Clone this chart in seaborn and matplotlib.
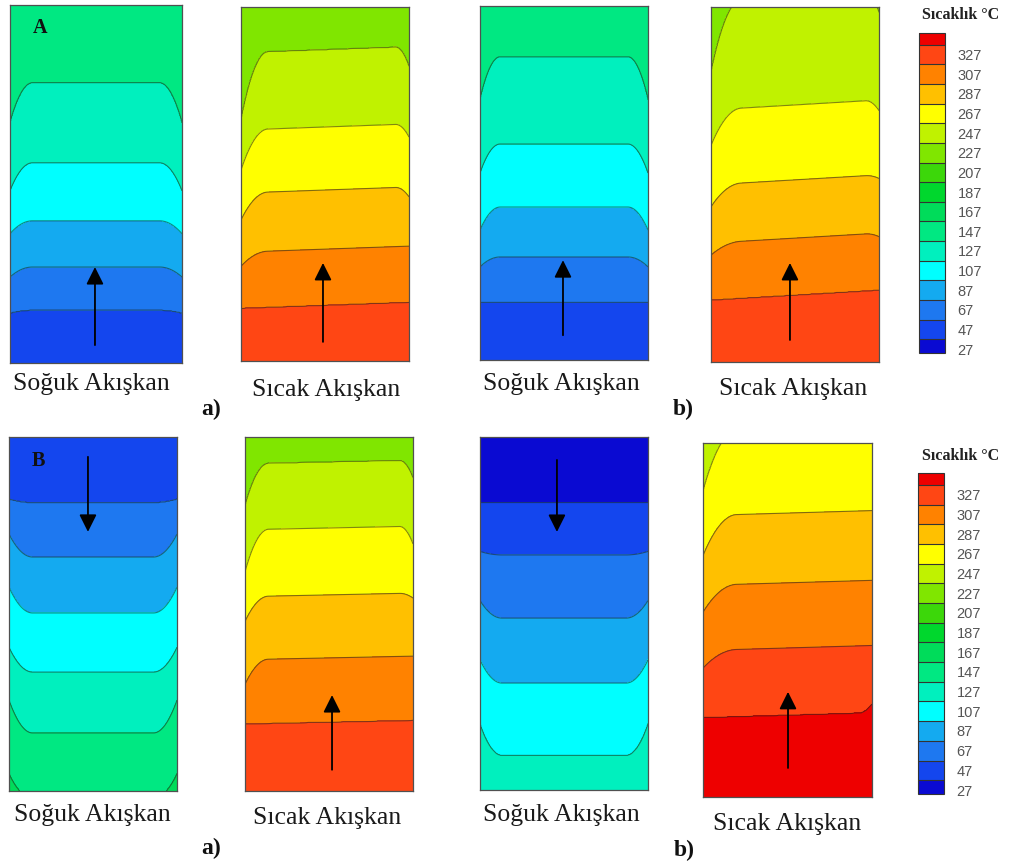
import numpy as np
import matplotlib
matplotlib.use("Agg")
import matplotlib.pyplot as plt
import matplotlib as mpl
from matplotlib.colors import ListedColormap, BoundaryNorm
import seaborn as sns

# ---------------- colour scale (Sıcaklık °C) ----------------
band_bounds = [23, 37, 57, 77, 97, 117, 137, 157, 177, 197, 217, 237,
               257, 277, 297, 317, 337, 349]
band_colors = ["#0a0ad2", "#1446ee", "#1e78f0", "#14aaf0", "#00ffff",
               "#00f0be", "#00e882", "#00dc5a", "#00d72d", "#3cd70a",
               "#80e600", "#c0f200", "#ffff00", "#ffc000", "#ff8200",
               "#ff4614", "#ee0000"]
tick_values = [27, 47, 67, 87, 107, 127, 147, 167, 187, 207, 227, 247,
               267, 287, 307, 327]

# ---------------- isotherm readings per panel ----------------
# pos: height of isotherm on the centre line (fraction of panel height, from bottom)
# left/right: vertical offset of the isotherm at the side wall
# A-a cold fluid (flow upward)
p1_levels = [57, 77, 97, 117, 137]
p1_pos = [0.148, 0.268, 0.397, 0.559, 0.782]
p1_left = [-0.008, -0.028, -0.036, -0.078, -0.112]
p1_right = [-0.008, -0.028, -0.036, -0.078, -0.112]
# A-a hot fluid (flow upward)
p2_levels = [317, 297, 277, 257, 237]
p2_pos = [0.158, 0.316, 0.483, 0.661, 0.879]
p2_left = [0.0, -0.04, -0.076, -0.113, -0.19]
p2_right = [0.0, 0.0, -0.028, -0.037, -0.056]
# A-b cold fluid (flow upward)
p3_levels = [57, 77, 97, 117, 137]
p3_pos = [0.164, 0.291, 0.432, 0.610, 0.856]
p3_left = [0.0, -0.028, -0.065, -0.082, -0.121]
p3_right = [0.0, -0.028, -0.065, -0.082, -0.121]
# A-b hot fluid (flow upward)
p4_levels = [317, 297, 277, 257, 237]
p4_pos = [0.189, 0.349, 0.513, 0.724, 1.03]
p4_left = [0.0, -0.034, -0.062, -0.10, -0.20]
p4_right = [0.0, -0.01, -0.01, -0.03, -0.06]
# B-a cold fluid (flow downward)
p5_levels = [157, 137, 117, 97, 77, 57]
p5_pos = [-0.02, 0.164, 0.336, 0.503, 0.661, 0.814]
p5_left = [0.07, 0.093, 0.07, 0.073, 0.065, 0.01]
p5_right = [0.07, 0.093, 0.07, 0.073, 0.065, 0.01]
# B-a hot fluid (flow upward)
p6_levels = [317, 297, 277, 257, 237]
p6_pos = [0.195, 0.376, 0.554, 0.743, 0.929]
p6_left = [0.0, -0.07, -0.07, -0.119, -0.119]
p6_right = [0.0, 0.0, -0.014, -0.05, -0.05]
# B-b cold fluid (flow downward)
p7_levels = [117, 97, 77, 57, 37]
p7_pos = [0.099, 0.303, 0.487, 0.666, 0.813]
p7_left = [0.09, 0.066, 0.05, 0.01, 0.0]
p7_right = [0.09, 0.066, 0.05, 0.01, 0.0]
# B-b hot fluid (flow upward)
p8_levels = [337, 317, 297, 277, 257]
p8_pos = [0.232, 0.421, 0.605, 0.802, 1.04]
p8_left = [0.0, -0.05, -0.076, -0.113, -0.17]
p8_right = [0.025, 0.0, 0.0, 0.0, 0.0]

panel_labels = ["Soğuk Akışkan", "Sıcak Akışkan"]

W, H = 1009, 866

panels = [
    dict(r=(10, 5, 182, 363), lv=p1_levels, pos=p1_pos, L=p1_left, R=p1_right, tilt=0.0,
         wl=0.13, wr=0.13, ends=(47, 147), arr=(0.494, 0.05, 0.268)),
    dict(r=(241, 7, 409, 361), lv=p2_levels, pos=p2_pos, L=p2_left, R=p2_right, tilt=0.017,
         wl=0.16, wr=0.08, ends=(327, 227), arr=(0.488, 0.054, 0.277)),
    dict(r=(480, 6, 648, 360), lv=p3_levels, pos=p3_pos, L=p3_left, R=p3_right, tilt=0.0,
         wl=0.12, wr=0.12, ends=(47, 147), arr=(0.494, 0.07, 0.282)),
    dict(r=(711, 7, 879, 362), lv=p4_levels, pos=p4_pos, L=p4_left, R=p4_right, tilt=0.028,
         wl=0.18, wr=0.08, ends=(327, 227), arr=(0.47, 0.062, 0.279)),
    dict(r=(9, 437, 177, 791), lv=p5_levels, pos=p5_pos, L=p5_left, R=p5_right, tilt=0.0,
         wl=0.14, wr=0.14, ends=(167, 47), arr=(0.47, 0.944, 0.732)),
    dict(r=(245, 437, 413, 791), lv=p6_levels, pos=p6_pos, L=p6_left, R=p6_right, tilt=0.01,
         wl=0.14, wr=0.08, ends=(327, 227), arr=(0.518, 0.06, 0.271)),
    dict(r=(480, 437, 648, 790), lv=p7_levels, pos=p7_pos, L=p7_left, R=p7_right, tilt=0.0,
         wl=0.13, wr=0.13, ends=(127, 28), arr=(0.458, 0.935, 0.731)),
    dict(r=(703, 443, 872, 797), lv=p8_levels, pos=p8_pos, L=p8_left, R=p8_right, tilt=0.014,
         wl=0.2, wr=0.08, ends=(342, 247), arr=(0.503, 0.082, 0.297)),
]

sns.set_theme(style="white")
plt.rcParams["font.family"] = ["Liberation Serif", "DejaVu Serif"]

palette = sns.color_palette(band_colors)
cmap = ListedColormap(palette)
norm = BoundaryNorm(band_bounds, cmap.N)

fig = plt.figure(figsize=(W / 100, H / 100), dpi=100)
fig.patch.set_facecolor("white")


def rect(x0, y0, x1, y1):
    return [x0 / W, 1 - y1 / H, (x1 - x0) / W, (y1 - y0) / H]


nx, ny = 241, 481
xs = np.linspace(0, 1, nx)
ys = np.linspace(0, 1, ny)
X, Y = np.meshgrid(xs, ys)

for i, p in enumerate(panels):
    ax = fig.add_axes(rect(*p["r"]))
    fl = np.clip(1 - xs / p["wl"], 0, 1) ** 2
    fr = np.clip(1 - (1 - xs) / p["wr"], 0, 1) ** 2
    pos = np.array(p["pos"], float)
    L = np.array(p["L"], float)
    R = np.array(p["R"], float)
    Z = np.empty((ny, nx))
    for j, x in enumerate(xs):
        pp = pos + L * fl[j] + R * fr[j] + p["tilt"] * (x - 0.5)
        Z[:, j] = np.interp(ys, np.r_[-1.0, pp, 2.0],
                            np.r_[p["ends"][0], p["lv"], p["ends"][1]])
    ax.contourf(X, Y, Z, levels=band_bounds, cmap=cmap, norm=norm)
    ax.contour(X, Y, Z, levels=band_bounds[1:-1], colors=[(0.1, 0.15, 0.1, 0.55)],
               linewidths=0.8)
    ax.set_xlim(0, 1)
    ax.set_ylim(0, 1)
    ax.set_xticks([])
    ax.set_yticks([])
    for s in ax.spines.values():
        s.set_color("#505050")
        s.set_linewidth(0.9)
    ax_x, tail, tip = p["arr"]
    ax.annotate("", xy=(ax_x, tip), xytext=(ax_x, tail), xycoords="axes fraction",
                arrowprops=dict(arrowstyle="-|>,head_length=0.7,head_width=0.35",
                                color="black", lw=1.3, mutation_scale=15,
                                shrinkA=0, shrinkB=0))

# panel letters
fig.text(40 / W, 1 - 28 / H, "A", fontsize=14.5, fontweight="bold", ha="center",
         va="center", color="#111111")
fig.text(38 / W, 1 - 461 / H, "B", fontsize=14.5, fontweight="bold", ha="center",
         va="center", color="#111111")

# captions
captions = [
    (91, 384, panel_labels[0]), (326, 390, panel_labels[1]),
    (561, 384, panel_labels[0]), (793, 389, panel_labels[1]),
    (92, 815, panel_labels[0]), (327, 818, panel_labels[1]),
    (561, 815, panel_labels[0]), (787, 824, panel_labels[1]),
]
for x, y, t in captions:
    fig.text(x / W, 1 - y / H, t, fontsize=18.5, ha="center", va="center",
             color="#1a1a1a")
for x, y, t in [(211, 409, "a)"), (683, 409, "b)"), (211, 848, "a)"), (684, 850, "b)")]:
    fig.text(x / W, 1 - y / H, t, fontsize=17, fontweight="bold", ha="center",
             va="center", color="#111111")

# colour bars
for (x0, y0, x1, y1), ty in [((919, 33, 945, 353), 15), ((918, 473, 944, 794), 456)]:
    cax = fig.add_axes(rect(x0, y0, x1, y1))
    sm = mpl.cm.ScalarMappable(norm=norm, cmap=cmap)
    cb = fig.colorbar(sm, cax=cax, boundaries=band_bounds, spacing="proportional",
                      ticks=tick_values, drawedges=True)
    cb.dividers.set_color("#333333")
    cb.dividers.set_linewidth(0.8)
    cb.outline.set_edgecolor("#333333")
    cb.outline.set_linewidth(0.8)
    cax.minorticks_off()
    cax.tick_params(which="both", length=0, pad=9, labelsize=10.5, labelcolor="#555555")
    for lab in cax.get_yticklabels():
        lab.set_family(["Liberation Sans", "DejaVu Sans"])
    fig.text(961 / W, 1 - ty / H, "Sıcaklık °C", fontsize=11.5, fontweight="bold",
             ha="center", va="center", color="#222222")

fig.savefig("out.png", dpi=100, facecolor="white")
